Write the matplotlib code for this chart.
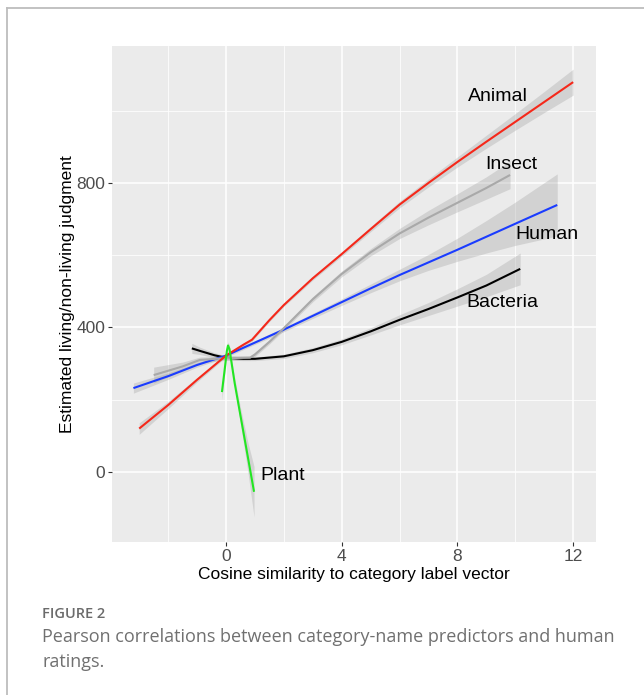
import numpy as np
import matplotlib.pyplot as plt
from matplotlib.lines import Line2D

# loess fits per category: x = cosine similarity, y = fitted judgment, se = band half-width
animal_x = [-3.0, -2.0, -1.0, 0.0, 0.6, 0.9, 1.5, 2.0, 3.0, 4.0, 5.0, 6.0, 7.0, 8.0, 9.0, 10.0, 11.0, 12.0]
animal_y = [120, 185, 255, 322, 352, 366, 420, 462, 536, 603, 672, 740, 800, 858, 914, 969, 1024, 1079]
animal_se = [16, 10, 6, 4, 4, 4, 4, 4, 5, 6, 7, 9, 11, 14, 18, 23, 29, 36]

insect_x = [-2.5, -1.5, -0.9, 0.0, 0.83, 1.0, 1.5, 2.0, 3.0, 4.0, 5.0, 6.0, 7.0, 8.0, 9.0, 9.82]
insect_y = [268, 292, 310, 315, 316, 325, 360, 398, 478, 548, 608, 660, 704, 745, 786, 822]
insect_se = [22, 12, 8, 6, 6, 6, 6, 6, 7, 8, 10, 14, 20, 25, 31, 38]

human_x = [-3.2, -2.0, -1.0, 0.0, 1.0, 2.0, 3.0, 4.0, 5.0, 6.0, 7.0, 8.0, 9.0, 10.0, 11.45]
human_y = [232, 265, 296, 322, 358, 394, 432, 470, 508, 545, 580, 615, 651, 687, 739]
human_se = [14, 9, 6, 5, 5, 6, 7, 9, 12, 16, 22, 32, 45, 60, 86]

bacteria_x = [-1.18, -0.9, -0.4, 0.0, 0.6, 1.0, 2.0, 3.0, 4.0, 5.0, 6.0, 7.0, 8.0, 9.0, 10.17]
bacteria_y = [342, 335, 323, 316, 313, 313, 320, 337, 360, 389, 421, 451, 483, 516, 562]
bacteria_se = [14, 10, 7, 6, 5, 5, 6, 7, 8, 10, 14, 18, 24, 31, 44]

plant_x = [-0.14, -0.05, 0.03, 0.07, 0.12, 0.3, 0.5, 0.75, 0.97]
plant_y = [221, 280, 335, 350, 340, 246, 156, 44, -55]
plant_se = [22, 14, 10, 10, 10, 14, 22, 40, 70]

# label text and where it sits (data coords)
labels = ["Animal", "Insect", "Human", "Bacteria", "Plant"]
label_x = [9.39, 9.85, 11.08, 9.54, 1.2]
label_y = [1038, 852, 656, 468, -11]

x_ticks = [0, 4, 8, 12]
y_ticks = [0, 400, 800]

series = [
    (bacteria_x, bacteria_y, bacteria_se, "black"),
    (human_x, human_y, human_se, "#1a3cff"),
    (insect_x, insect_y, insect_se, "#a9a9a9"),
    (animal_x, animal_y, animal_se, "#f5281a"),
    (plant_x, plant_y, plant_se, "#22e622"),
]

W, H = 644, 695
fig = plt.figure(figsize=(W / 100, H / 100), dpi=100)

# outer frame of the figure box (top and left edges only)
fig.add_artist(Line2D([7 / W, 1.0], [1 - 8 / H, 1 - 8 / H], transform=fig.transFigure,
                      color="#bdbdbd", lw=1.3))
fig.add_artist(Line2D([7 / W, 7 / W], [0.0, 1 - 8 / H], transform=fig.transFigure,
                      color="#bdbdbd", lw=1.3))

left, right, top, bottom = 112, 596, 46, 542
ax = fig.add_axes([left / W, 1 - bottom / H, (right - left) / W, (bottom - top) / H])
ax.set_facecolor("#ebebeb")
for s in ax.spines.values():
    s.set_visible(False)

ax.set_xlim(-3.94, 12.79)
ax.set_ylim(-194, 1179)
ax.set_xticks(x_ticks)
ax.set_yticks(y_ticks)
ax.set_xticks([-2, 2, 6, 10], minor=True)
ax.set_yticks([200, 600, 1000], minor=True)
ax.grid(True, which="major", color="white", lw=1.1)
ax.grid(True, which="minor", color="white", lw=0.55)
ax.set_axisbelow(True)
ax.tick_params(which="major", length=3, width=0.8, color="#333333",
               labelcolor="#4d4d4d", labelsize=12.5, pad=2)
ax.tick_params(which="minor", length=0)
for t in ax.get_xticklabels() + ax.get_yticklabels():
    t.set_family("Liberation Sans")

for xs, ys, se, col in series:
    xs = np.array(xs)
    ys = np.array(ys)
    se = np.array(se)
    ax.fill_between(xs, ys - se, ys + se, color="#999999", alpha=0.3, lw=0)
    ax.plot(xs, ys, color=col, lw=1.5, solid_capstyle="butt", solid_joinstyle="round")

for txt, lx, ly in zip(labels, label_x, label_y):
    ha = "left" if txt == "Plant" else "center"
    ax.text(lx, ly, txt, ha=ha, va="center", fontsize=14,
            family="Liberation Sans", color="black")

ax.set_xlabel("Cosine similarity to category label vector", fontsize=12.5,
              family="Liberation Sans", labelpad=2)
ax.set_ylabel("Estimated living/non-living judgment", fontsize=12.5,
              family="Liberation Sans", labelpad=1)

fig.text(42 / W, 1 - 614 / H, "FIGURE 2", fontsize=10.5, color="#6b6b6b",
         family="Open Sans", fontweight="semibold", va="center")
fig.text(42 / W, 1 - 637 / H, "Pearson correlations between category-name predictors and human",
         fontsize=13, color="#707070", family="Open Sans", va="center")
fig.text(42 / W, 1 - 662 / H, "ratings.", fontsize=13, color="#707070",
         family="Open Sans", va="center")

fig.savefig("out.png", dpi=100)
